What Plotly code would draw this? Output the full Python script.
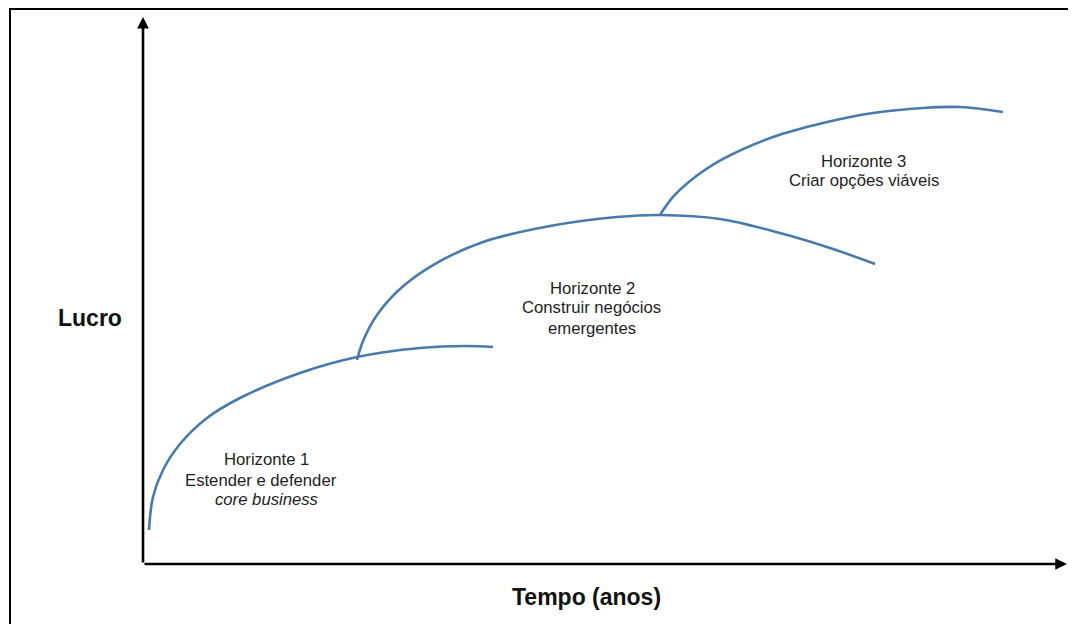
import plotly.graph_objects as go

# Curve data (x = tempo, y = lucro), arbitrary units 0-100
h1_x = [0.65, 1.08, 2.17, 4.01, 6.93, 10.51, 17.01, 23.19, 30.01, 34.89, 37.92]
h1_y = [6.23, 12.27, 17.22, 21.98, 26.74, 30.40, 34.98, 37.91, 39.56, 39.93, 39.74]

h2_x = [23.19, 23.84, 25.35, 27.84, 31.42, 36.84, 44.10, 51.35, 56.01, 62.51, 69.01, 74.43, 79.31]
h2_y = [37.36, 40.84, 45.60, 50.37, 54.76, 58.97, 61.90, 63.55, 63.92, 63.19, 60.62, 57.88, 54.95]

h3_x = [56.01, 57.42, 59.26, 62.84, 68.26, 73.67, 79.09, 84.51, 88.52, 93.17]
h3_y = [63.92, 67.22, 70.15, 74.18, 78.21, 80.77, 82.60, 83.52, 83.70, 82.78]

# Labels: (text, x, y)
h1_labels = [("Horizonte 1", 13.43, 19.05), ("Estender e defender", 12.73, 15.38),
             ("<i>core business</i>", 13.43, 11.90)]
h2_labels = [("Horizonte 2", 48.75, 50.55), ("Construir negócios", 48.64, 46.89),
             ("emergentes", 48.64, 43.22)]
h3_labels = [("Horizonte 3", 78.11, 73.81), ("Criar opções viáveis", 78.11, 70.15)]

x_title = "Tempo (anos)"
y_title = "Lucro"

curve_color = "#4a7aab"
text_color = "#1e1e1e"
font_family = "Arial, Liberation Sans, sans-serif"

fig = go.Figure()
for xs, ys in [(h1_x, h1_y), (h2_x, h2_y), (h3_x, h3_y)]:
    fig.add_trace(go.Scatter(x=xs, y=ys, mode="lines",
                             line=dict(color=curve_color, width=2.6, shape="spline", smoothing=1.0),
                             hoverinfo="skip", showlegend=False))

annotations = []
for text, x, y in h1_labels + h2_labels + h3_labels:
    annotations.append(dict(x=x, y=y, xref="x", yref="y", text=text, showarrow=False,
                            font=dict(size=16.7, color=text_color, family=font_family),
                            xanchor="center", yanchor="middle"))

# axis titles
annotations.append(dict(x=0.481, y=-0.0604, xref="paper", yref="paper", text="<b>%s</b>" % x_title,
                        showarrow=False, font=dict(size=23, color="#111111", family=font_family),
                        xanchor="center", yanchor="middle"))
annotations.append(dict(x=-0.0574, y=0.4505, xref="paper", yref="paper", text="<b>%s</b>" % y_title,
                        showarrow=False, font=dict(size=23, color="#111111", family=font_family),
                        xanchor="center", yanchor="middle"))

# axis arrows
annotations.append(dict(x=0, y=100.2, xref="x", yref="y", ax=0, ay=0, axref="x", ayref="y",
                        text="", showarrow=True, arrowhead=2, arrowsize=0.9, arrowwidth=2.6,
                        arrowcolor="#000000", standoff=0, startstandoff=0))
annotations.append(dict(x=100.1, y=0, xref="x", yref="y", ax=0, ay=0, axref="x", ayref="y",
                        text="", showarrow=True, arrowhead=2, arrowsize=0.9, arrowwidth=2.6,
                        arrowcolor="#000000", standoff=0, startstandoff=0))

fig.update_layout(
    width=1068, height=616,
    margin=dict(l=135, r=10, t=10, b=60),
    paper_bgcolor="white", plot_bgcolor="white",
    xaxis=dict(range=[0, 100], showgrid=False, zeroline=False, showticklabels=False,
               showline=False, ticks="", fixedrange=True),
    yaxis=dict(range=[0, 100], showgrid=False, zeroline=False, showticklabels=False,
               showline=False, ticks="", fixedrange=True),
    annotations=annotations,
    shapes=[dict(type="rect", xref="paper", yref="paper",
                 x0=-0.1441, x1=1.2, y0=-0.3, y1=1.0165,
                 line=dict(color="#000000", width=2), fillcolor="rgba(0,0,0,0)", layer="below")],
    showlegend=False,
)

fig.write_html("out.html", config={"displayModeBar": False})
